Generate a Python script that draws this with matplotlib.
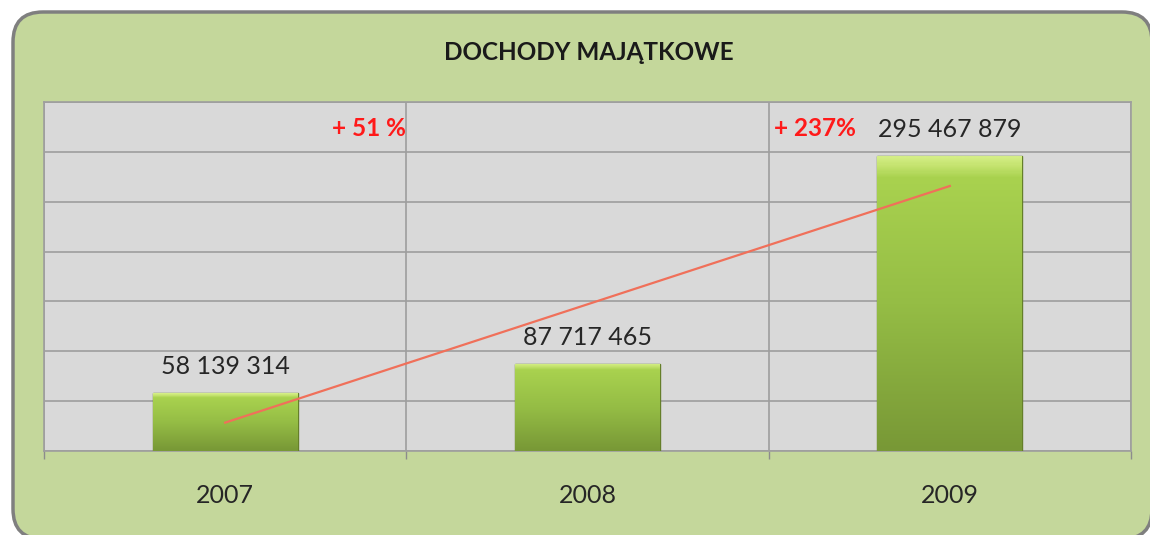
import numpy as np
import matplotlib
matplotlib.use('Agg')
import matplotlib.pyplot as plt
from matplotlib.patches import FancyBboxPatch
from matplotlib.colors import LinearSegmentedColormap

# Data
years = ['2007', '2008', '2009']
values = [58139314, 87717465, 295467879]
growth_labels = ['+ 51 %', '+ 237%']
title = 'DOCHODY MAJĄTKOWE'

plt.rcParams['font.family'] = ['Lato', 'DejaVu Sans']

fig = plt.figure(figsize=(11.5, 5.35), dpi=100)
fig.patch.set_facecolor('white')

# Background panel with rounded corners, in pixel units
bg = fig.add_axes([0, 0, 1, 1], zorder=0)
bg.set_xlim(0, 1150)
bg.set_ylim(535, 0)
bg.axis('off')
panel = FancyBboxPatch((13, 12), 1139, 527,
                       boxstyle='round,pad=0,rounding_size=30',
                       facecolor='#c4d79b', edgecolor='#7f7f7f', lw=2.5)
bg.add_patch(panel)
bg.text(589, 52, title, ha='center', va='center', fontsize=17.5,
        fontweight='bold', color='#1a1a1a')

# Plot area
ax = fig.add_axes([44 / 1150, 84 / 535, 1087 / 1150, 349 / 535], zorder=1)
ax.set_facecolor('#d9d9d9')

x = np.arange(len(years))
bars = ax.bar(x, values, width=0.4, color='#9bc148', edgecolor='#657f2a',
              linewidth=1.0, zorder=3)

# Vertical gradient inside each bar, with a light bevel at the top
cmap = LinearSegmentedColormap.from_list(
    'bar', [(0.0, '#789836'), (0.5, '#95bd45'), (0.93, '#a9d24f'),
            (0.97, '#c4e36f'), (1.0, '#d4ee85')])
for b in bars:
    x0, w, h = b.get_x(), b.get_width(), b.get_height()
    npx = max(int(h / 1e6), 20)
    grad = np.linspace(0, 1, npx).reshape(-1, 1)
    im = ax.imshow(grad, cmap=cmap, origin='lower', aspect='auto',
                   extent=(x0, x0 + w, 0, h), zorder=3.5)
    im.set_clip_path(b)

# Linear trend line
slope, intercept = np.polyfit(x, values, 1)
ax.plot(x, slope * x + intercept, color='#f0705a', lw=1.6, zorder=5)

# Value labels
for xi, v in zip(x, values):
    label = f'{v:,}'.replace(',', ' ')
    ax.annotate(label, (xi, v), xytext=(0, 19), textcoords='offset points',
                ha='center', va='center', fontsize=18, color='#262626',
                zorder=6)

# Growth labels
ax.text(0.295, 323e6, growth_labels[0], ha='left', va='center', fontsize=17.5,
        fontweight='bold', color='#ff1a1a', zorder=6)
ax.text(1.515, 323e6, growth_labels[1], ha='left', va='center', fontsize=17.5,
        fontweight='bold', color='#ff1a1a', zorder=6)

ax.set_xlim(-0.5, 2.5)
ax.set_ylim(0, 350e6)
ax.set_yticks(np.arange(0, 350e6 + 1, 50e6))
ax.set_yticklabels([])
ax.tick_params(axis='y', length=0)
ax.set_xticks(x)
ax.set_xticklabels(years, fontsize=18, color='#262626')
ax.tick_params(axis='x', which='major', length=0, pad=24)
ax.set_xticks([-0.5, 0.5, 1.5, 2.5], minor=True)
ax.tick_params(axis='x', which='minor', length=6, color='#8c8c8c', width=1)
ax.grid(axis='y', color='#9e9e9e', lw=1.2, zorder=1)
ax.grid(axis='x', which='minor', color='#9e9e9e', lw=1.2, zorder=1)
ax.grid(axis='x', which='major', visible=False)
ax.set_axisbelow(True)
for s in ax.spines.values():
    s.set_color('#9e9e9e')
    s.set_linewidth(1.2)

fig.savefig('out.png', dpi=100)
